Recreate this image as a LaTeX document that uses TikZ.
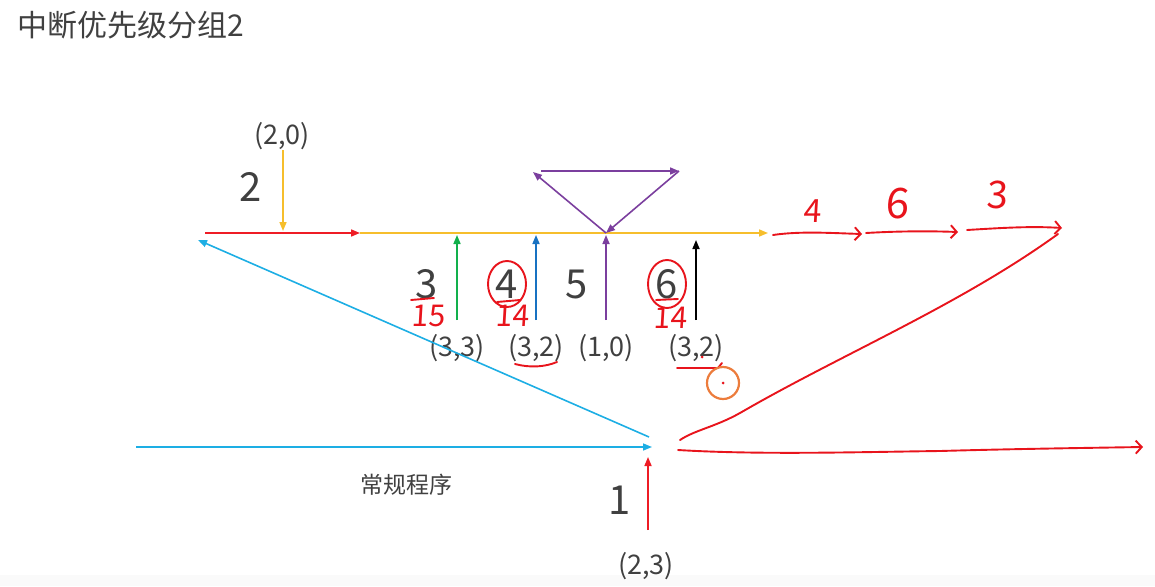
\documentclass[tikz,border=0pt]{standalone}
\usepackage{fontspec}
\setmainfont{Noto Sans CJK SC}
\newfontfamily\handfont[FakeSlant=0.06]{Noto Sans CJK SC}
\usetikzlibrary{arrows.meta,positioning,calc}
\definecolor{Ink}{HTML}{404040}
\definecolor{PenRed}{HTML}{E8141C}
\definecolor{LineRed}{HTML}{EE1C25}
\definecolor{LineYellow}{HTML}{F6BE2C}
\definecolor{LineCyan}{HTML}{1DAEE4}
\definecolor{LineGreen}{HTML}{12B04C}
\definecolor{LineBlue}{HTML}{1872C2}
\definecolor{LinePurple}{HTML}{7B3F9E}
\definecolor{PenOrange}{HTML}{EC7C3C}
\tikzset{
  flow/.style={line width=1.6pt,-{Triangle[length=9pt,width=7pt]}},
  pen/.style={PenRed,line width=1.9pt,line cap=round,line join=round},
  penhead/.style={pen,-{Straight Barb[length=6pt,width=13pt]}},
  lbl/.style={font=\fontsize{27}{30}\selectfont,text=Ink,inner sep=0pt},
  num/.style={font=\fontsize{40}{44}\selectfont,text=Ink,inner sep=0pt,text depth=0pt},
  hand/.style={font=\handfont\fontsize{30}{32}\selectfont,text=PenRed,inner sep=0pt,text depth=0pt},
}
\begin{document}
\begin{tikzpicture}[x=1pt,y=-1pt]
\useasboundingbox (0,0) rectangle (1155,586);
\fill[black!2] (0,575) rectangle (1155,586);
% title
\node[anchor=west,inner sep=0pt,text=Ink,font=\fontsize{30}{32}\selectfont] (title) at (17,25) {中断优先级分组2};
% interrupt 2 and the main line
\node[lbl] (irqB) at (282,136) {(2,0)};
\node[num] (numB) at (251,187) {2};
\coordinate (lineA) at (205,233);
\coordinate (lineB) at (360,233);
\coordinate (lineC) at (768,233);
\coordinate (dropB) at (283,150);
\coordinate (hitB) at (283,231);
\draw[flow,LineYellow] (dropB) -- (hitB);
\draw[flow,LineRed] (lineA) -- (lineB);
\draw[flow,LineYellow] (lineB) -- (lineC);
% interrupts 3 to 6
\node[num] (numC) at (427,284) {3};
\node[num] (numD) at (507,284) {4};
\node[num] (numE) at (577,284) {5};
\node[num] (numF) at (667,284) {6};
\node[lbl] (irqC) at (457,348) {(3,3)};
\node[lbl] (irqD) at (536,348) {(3,2)};
\node[lbl] (irqE) at (606,348) {(1,0)};
\node[lbl] (irqF) at (696,348) {(3,2)};
\coordinate (upC) at (457,320);
\coordinate (topC) at (457,235);
\coordinate (upD) at (536,320);
\coordinate (topD) at (536,235);
\coordinate (upE) at (606,320);
\coordinate (topE) at (606,235);
\coordinate (upF) at (696,320);
\coordinate (topF) at (696,240);
\draw[flow,LineGreen] (upC) -- (topC);
\draw[flow,LineBlue] (upD) -- (topD);
\draw[flow,LinePurple] (upE) -- (topE);
\draw[flow,black] (upF) -- (topF);
% nesting triangle
\coordinate (apex) at (606,233);
\coordinate (triL) at (533,172);
\coordinate (triS) at (541,171);
\coordinate (triR) at (679,171);
\draw[flow,LinePurple] (apex) -- (triL);
\draw[flow,LinePurple] (triS) -- (triR);
\draw[flow,LinePurple] (triR) -- (apex);
% regular program and interrupt 1
\coordinate (mainA) at (136,447);
\coordinate (mainB) at (652,447);
\coordinate (backA) at (649,437);
\coordinate (backB) at (198,240);
\draw[flow,LineCyan] (mainA) -- (mainB);
\draw[flow,LineCyan] (backA) -- (backB);
\node[inner sep=0pt,text=Ink,font=\fontsize{23}{25}\selectfont] (prog) at (406,485) {常规程序};
\node[num] (numA) at (620,500) {1};
\node[lbl] (irqA) at (646,566) {(2,3)};
\coordinate (upA) at (648,530);
\coordinate (topA) at (648,457);
\draw[flow,LineRed] (upA) -- (topA);
% pen notes
\draw[pen] (numD) ellipse (19 and 23);
\draw[pen] (numF) ellipse (19 and 24);
\draw[pen] (411,300) -- (434,298);
\draw[pen] (497,302) -- (520,300);
\draw[pen] (656,300) -- (678,299);
\node[hand] (prC) at (428,316) {15};
\node[hand] (prD) at (512,316) {14};
\node[hand] (prF) at (670,318) {14};
\draw[pen] (515,364) .. controls (530,368) and (545,367) .. (557,362);
\draw[pen] (677,368) -- (718,368) -- (722,363);
\fill[PenRed] (702,357) circle (1.5);
\draw[PenOrange,line width=2.2pt] (723,383) circle (16);
\fill[PenRed] (723,383) circle (1.5);
% order of service
\node[hand,font=\handfont\fontsize{32}{34}\selectfont] (ordA) at (812,211) {4};
\node[hand,font=\handfont\fontsize{42}{44}\selectfont] (ordB) at (897,203) {6};
\node[hand,font=\handfont\fontsize{38}{40}\selectfont] (ordC) at (997,195) {3};
\draw[penhead] (773,235) .. controls (800,231) and (830,233) .. (862,234);
\draw[penhead] (866,233) .. controls (900,231) and (930,231) .. (958,232);
\draw[penhead] (967,230) .. controls (1000,228) and (1030,226) .. (1062,228);
\draw[pen] (680,440) .. controls (695,430) and (715,427) .. (740,413)
  .. controls (840,355) and (960,305) .. (1058,234);
\draw[penhead] (678,450) .. controls (760,455) and (860,452) .. (940,451)
  .. controls (1010,449) and (1080,448) .. (1143,447);
\end{tikzpicture}
\end{document}
